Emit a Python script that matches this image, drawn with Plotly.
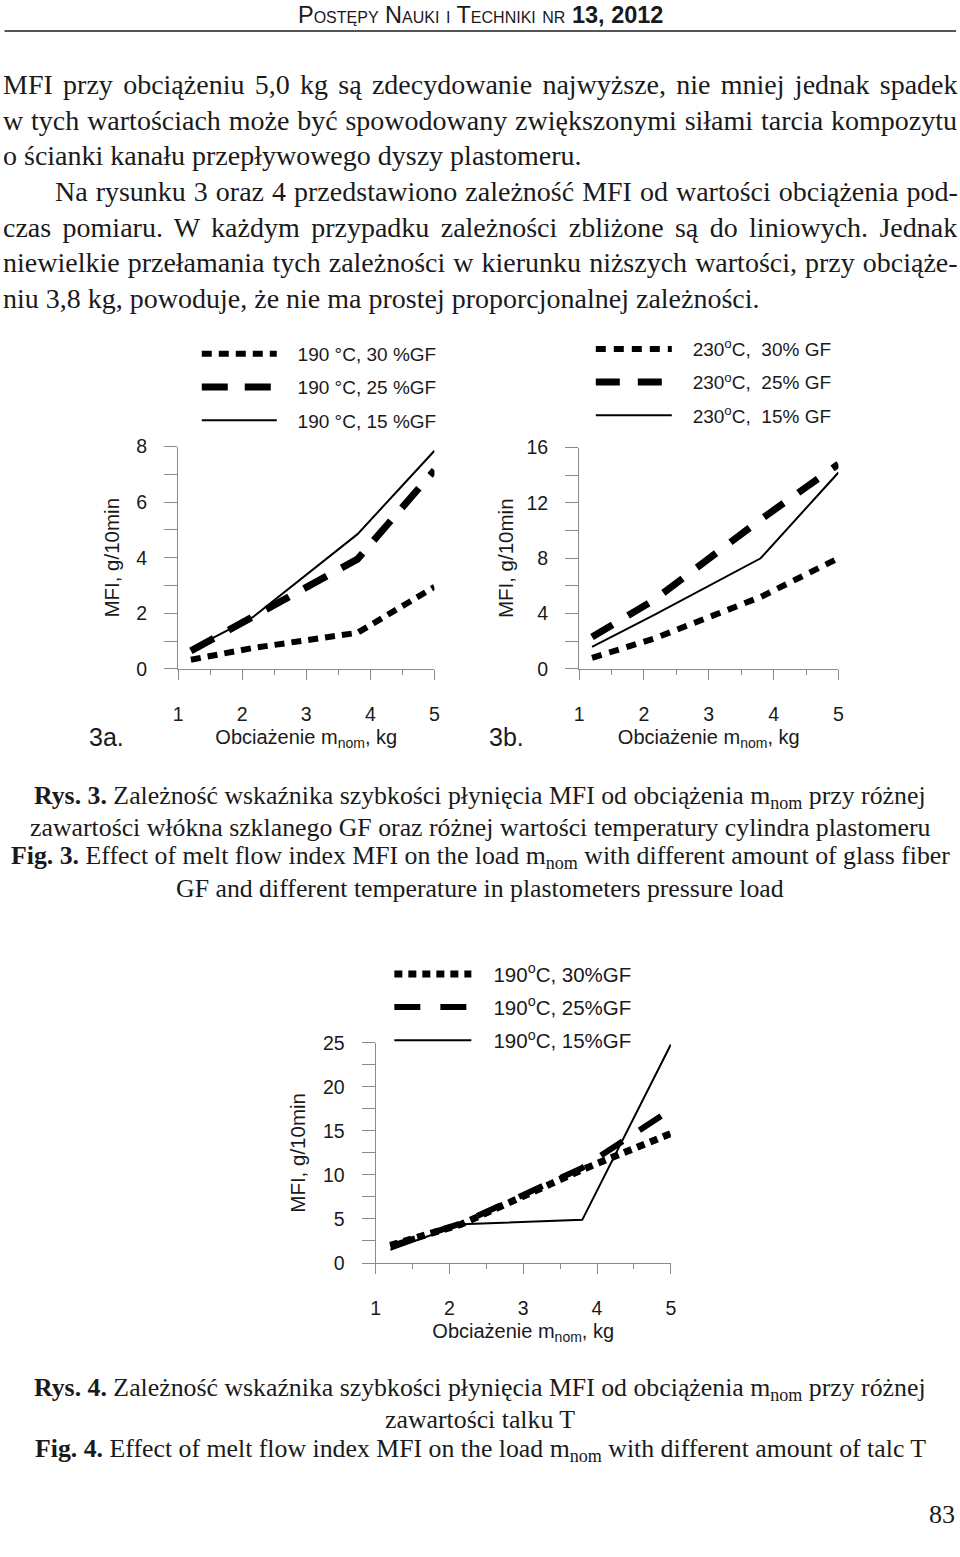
import plotly.graph_objects as go

W, H = 960, 1557

# The photographed page comes out very slightly scaled/offset; positions below
# are given in reference-pixel space and mapped into figure space here.
SX, OX = 0.991, 3.5
SY, OY = 0.989, 9.0


def cx(x):
    return (x - OX) / SX


def cy(y):
    return (y - OY) / SY


def px(x):
    return cx(x) / W


def py(y):
    return 1 - cy(y) / H


# ---------------- data ----------------
loads = [1.2, 2.16, 3.8, 5.0]  # load m_nom, kg

# Fig. 3a  (190 C)
mfi_3a_30 = [0.33, 0.75, 1.3, 2.95]
mfi_3a_25 = [0.65, 1.85, 3.95, 7.15]
mfi_3a_15 = [0.7, 1.85, 4.85, 7.85]
names_3a = ["190 °C, 30 %GF", "190 °C, 25 %GF", "190 °C, 15 %GF"]

# Fig. 3b  (230 C)
mfi_3b_30 = [0.8, 2.2, 5.2, 8.0]
mfi_3b_25 = [2.3, 5.0, 10.8, 14.8]
mfi_3b_15 = [1.6, 3.9, 8.0, 14.2]
names_3b = ["230<sup>o</sup>C,  30% GF", "230<sup>o</sup>C,  25% GF", "230<sup>o</sup>C,  15% GF"]

# Fig. 4  (talc)
mfi_4_30 = [2.0, 4.4, 10.6, 14.7]
mfi_4_25 = [1.9, 4.5, 10.8, 17.4]
mfi_4_15 = [1.5, 4.4, 4.9, 24.8]
names_4 = ["190<sup>o</sup>C, 30%GF", "190<sup>o</sup>C, 25%GF", "190<sup>o</sup>C, 15%GF"]

x_ticks = [1, 2, 3, 4, 5]
x_title = "Obciażenie m<sub>nom</sub>, kg"
y_title = "MFI, g/10min"

header = "Postępy Nauki i Techniki nr <b>13, 2012</b>"
paragraph = [
    "MFI przy obciążeniu 5,0 kg są zdecydowanie najwyższe, nie mniej jednak spadek",
    "w tych wartościach może być spowodowany zwiększonymi siłami tarcia kompozytu",
    "o ścianki kanału przepływowego dyszy plastomeru.",
    "Na rysunku 3 oraz 4 przedstawiono zależność MFI od wartości obciążenia pod-",
    "czas pomiaru. W każdym przypadku zależności zbliżone są do liniowych. Jednak",
    "niewielkie przełamania tych zależności w kierunku niższych wartości, przy obciąże-",
    "niu 3,8 kg, powoduje, że nie ma prostej proporcjonalnej zależności.",
]
caption3 = [
    "<b>Rys. 3.</b> Zależność wskaźnika szybkości płynięcia MFI od obciążenia m<sub>nom</sub> przy różnej",
    "zawartości włókna szklanego GF oraz różnej wartości temperatury cylindra plastomeru",
    "<b>Fig. 3.</b> Effect of melt flow index MFI on the load m<sub>nom</sub> with different amount of glass fiber",
    "GF and different temperature in plastometers pressure load",
]
caption4 = [
    "<b>Rys. 4.</b> Zależność wskaźnika szybkości płynięcia MFI od obciążenia m<sub>nom</sub> przy różnej",
    "zawartości talku T",
    "<b>Fig. 4.</b> Effect of melt flow index MFI on the load m<sub>nom</sub> with different amount of talc T",
]

# ---------------- styling ----------------
AX = "#8a8a8a"
INK = "#1a1a1a"
SANS = "Liberation Sans, Arial, sans-serif"
SERIF = "Liberation Serif, Times New Roman, serif"
TICKF = dict(family=SANS, size=19.5, color=INK)
XTF = dict(family=SANS, size=20, color=INK)
YTF = dict(family=SANS, size=20.5, color=INK)
NB = "\u00a0\u00a0\u00a0"

fig = go.Figure()

panels = [
    ("x", "y", "legend", [mfi_3a_30, mfi_3a_25, mfi_3a_15], names_3a,
     [("10px,7px", 6), ("26px,17px", 7), ("solid", 2)]),
    ("x2", "y2", "legend2", [mfi_3b_30, mfi_3b_25, mfi_3b_15], names_3b,
     [("10px,8px", 6), ("24px,18px", 7), ("solid", 2)]),
    ("x3", "y3", "legend3", [mfi_4_30, mfi_4_25, mfi_4_15], names_4,
     [("8px,6px", 7), ("26px,20px", 6), ("solid", 2)]),
]
for xa, ya, lg, series, names, styles in panels:
    for i, (vals, nm, (dash, w)) in enumerate(zip(series, names, styles)):
        fig.add_trace(go.Scatter(
            x=loads, y=vals, mode="lines", name=NB + nm, xaxis=xa, yaxis=ya,
            legend=lg, legendgroup=f"{lg}_{i}",
            line=dict(color="black", width=w, dash=dash),
            hoverinfo="skip",
        ))


def xaxis(dom, anchor):
    return dict(
        domain=dom, anchor=anchor, range=[1, 5], tickvals=x_ticks,
        showline=True, linecolor=AX, linewidth=1, ticks="outside", ticklen=10,
        tickcolor=AX, tickwidth=1, showgrid=False, zeroline=False, tickfont=TICKF,
        ticklabelstandoff=18,
        minor=dict(ticks="outside", ticklen=5, dtick=0.5, tick0=1, tickcolor=AX, showgrid=False),
        title=dict(text=x_title, font=XTF, standoff=5),
    )


def yaxis(dom, anchor, rng, dtick, mdtick, tstand=11):
    return dict(
        domain=dom, anchor=anchor, range=rng, dtick=dtick, tick0=0,
        showline=True, linecolor=AX, linewidth=1, ticks="outside", ticklen=13,
        tickcolor=AX, tickwidth=1, showgrid=False, zeroline=False, tickfont=TICKF,
        ticklabelstandoff=13,
        minor=dict(ticks="outside", ticklen=13, dtick=mdtick, tick0=0, tickcolor=AX, showgrid=False),
        title=dict(text=y_title, font=YTF, standoff=tstand),
    )


def legend(xc, yc, iw, fsize, gap):
    # xc / yc are figure-space pixels of the legend's top-left corner
    return dict(
        x=xc / W, y=1 - yc / H, xanchor="left", yanchor="top",
        font=dict(family=SANS, size=fsize, color=INK),
        bgcolor="rgba(0,0,0,0)", itemwidth=iw, tracegroupgap=gap,
        traceorder="grouped", itemclick=False, itemdoubleclick=False,
    )


fig.update_layout(
    width=W, height=H, margin=dict(l=0, r=0, t=0, b=0),
    paper_bgcolor="white", plot_bgcolor="white", hovermode=False,
    font=dict(family=SANS, color=INK),
    xaxis=xaxis([px(177), px(434)], "y"),
    yaxis=yaxis([py(669), py(446)], "x", [0, 8], 2, 1),
    xaxis2=xaxis([px(579), px(839)], "y2"),
    yaxis2=yaxis([py(669), py(447)], "x2", [0, 16], 4, 2, tstand=7),
    xaxis3=xaxis([px(375), px(671)], "y3"),
    yaxis3=yaxis([py(1265), py(1044)], "x3", [0, 25], 5, 2.5),
    legend=legend(194, 328.6, 75, 19, 5.5),
    legend2=legend(592.6, 323.6, 76, 19, 5.5),
    legend3=legend(388.8, 956.6, 77, 20.5, 3.5),
    showlegend=True,
)

ann = []


def text(s, x, y, size, family=SERIF, anchor="left", **kw):
    ann.append(dict(text=s, x=px(x), y=py(y), xref="paper", yref="paper",
                    xanchor=anchor, yanchor="middle", showarrow=False,
                    font=dict(family=family, size=size, color=INK, **kw)))


# header
text(header, 480, 13, 23.5, family=SANS, anchor="center", variant="small-caps")

# body paragraph (justified lines get a little extra word spacing)
para_y = [83, 118.7, 154.4, 190.1, 225.8, 261.5, 297.2]
para_x = [-0.5, -0.5, -0.5, 51.5, -0.5, -0.5, -0.5]
word_sp = [3.3, 0.85, 0, 1.0, 4.4, 1.03, 0]
for s, x, y, ws in zip(paragraph, para_x, para_y, word_sp):
    if ws:
        s = f'<span style="word-spacing:{ws}px">{s}</span>'
    text(s, x, y, 28, anchor="left")

# panel labels
text("3a.", 86, 737, 25, family=SANS)
text("3b.", 487, 737, 25, family=SANS)

# captions
for s, y in zip(caption3, [797, 828, 858, 889]):
    text(s, 480, y, 25.8, anchor="center")
for s, y in zip(caption4, [1391, 1422, 1453]):
    text(s, 480, y, 25.8, anchor="center")

# page number
text("83", 943, 1517, 26, anchor="center")

fig.update_layout(
    annotations=ann,
    shapes=[dict(type="line", xref="paper", yref="paper", x0=px(3), x1=px(957),
                 y0=py(29), y1=py(29), line=dict(color="#555555", width=2))],
)

fig.write_html(
    "out.html",
    config={"displayModeBar": False},
    post_script="document.body.style.margin='0';document.body.style.overflow='hidden';",
)
